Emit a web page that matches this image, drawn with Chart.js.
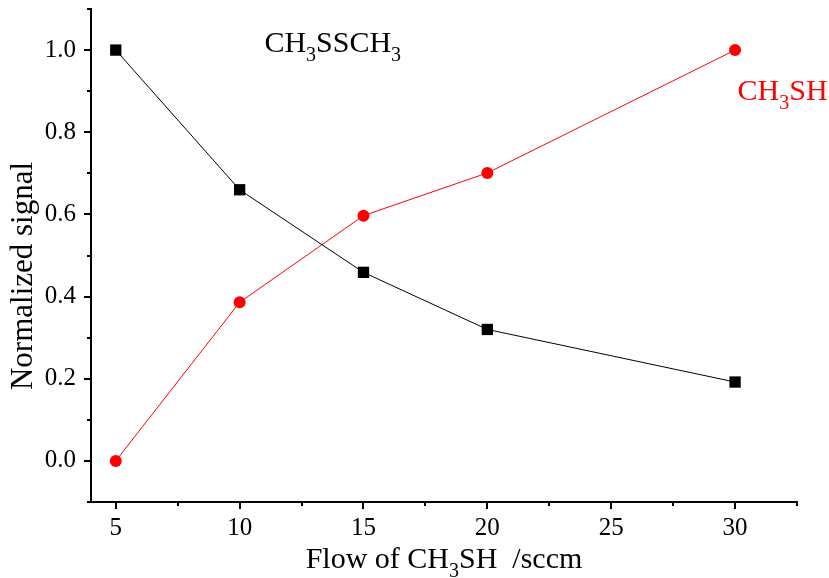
<!DOCTYPE html>
<html>
<head>
<meta charset="utf-8">
<script src="https://cdn.jsdelivr.net/npm/chart.js@4.4.1/dist/chart.umd.min.js"></script>
<style>
  body { margin: 0; background: #fff; }
  #wrap { width: 829px; height: 578px; }
</style>
</head>
<body>
<div id="wrap"><canvas id="signalChart" width="829" height="578"></canvas></div>
<script>
// values
var flow = [5, 10, 15, 20, 30];
var dmdsSignal = [1.0, 0.66, 0.459, 0.32, 0.192];   // CH3SSCH3
var meshSignal = [0.0, 0.386, 0.597, 0.701, 1.0];   // CH3SH
var xTicks = [5, 10, 15, 20, 25, 30];
var xMinor = [7.5, 12.5, 17.5, 22.5, 27.5, 32.5];
var yTicks = [0, 0.2, 0.4, 0.6, 0.8, 1.0];
var yMinor = [-0.1, 0.1, 0.3, 0.5, 0.7, 0.9, 1.1];

var FONT = '"Liberation Serif", "DejaVu Serif", serif';

// draw text with subscript pieces, e.g. [['CH'], ['3', true], ['SH']]
function drawRich(ctx, parts, x, y, size, color, align) {
    var subSize = Math.round(size * 0.66);
    var total = 0;
    parts.forEach(function(p) {
        ctx.font = (p[1] ? subSize : size) + 'px ' + FONT;
        total += ctx.measureText(p[0]).width;
    });
    var cx = align === 'center' ? x - total / 2 : x;
    ctx.fillStyle = color;
    ctx.textAlign = 'left';
    ctx.textBaseline = 'alphabetic';
    parts.forEach(function(p) {
        ctx.font = (p[1] ? subSize : size) + 'px ' + FONT;
        ctx.fillText(p[0], cx, p[1] ? y + size * 0.3 : y);
        cx += ctx.measureText(p[0]).width;
    });
}

var extras = {
    id: 'extras',
    afterDraw: function(chart) {
        var ctx = chart.ctx, xs = chart.scales.x, ys = chart.scales.y, area = chart.chartArea;
        ctx.save();
        // minor ticks
        ctx.strokeStyle = '#000';
        ctx.lineWidth = 2;
        ctx.beginPath();
        xMinor.forEach(function(v) {
            var px = Math.round(xs.getPixelForValue(v));
            ctx.moveTo(px, area.bottom);
            ctx.lineTo(px, area.bottom + 4);
        });
        yMinor.forEach(function(v) {
            var py = Math.round(ys.getPixelForValue(v));
            ctx.moveTo(area.left, py);
            ctx.lineTo(area.left - 4, py);
        });
        ctx.stroke();

        // axis titles
        drawRich(ctx, [['Flow of CH'], ['3', true], ['SH  /sccm']],
            (area.left + area.right) / 2, 568, 30, '#000', 'center');
        ctx.translate(32, 276);
        ctx.rotate(-Math.PI / 2);
        drawRich(ctx, [['Normalized signal']], 0, 0, 31, '#000', 'center');
        ctx.setTransform(1, 0, 0, 1, 0, 0);

        // series labels
        drawRich(ctx, [['CH'], ['3', true], ['SSCH'], ['3', true]],
            xs.getPixelForValue(11.0), ys.getPixelForValue(0.995), 30, '#000', 'left');
        drawRich(ctx, [['CH'], ['3', true], ['SH']],
            xs.getPixelForValue(30.1), ys.getPixelForValue(0.879), 30, '#ff0000', 'left');
        ctx.restore();
    }
};

document.addEventListener("DOMContentLoaded", function() {
    var ctx = document.getElementById('signalChart').getContext('2d');
    var axisCommon = {
        type: 'linear',
        border: { display: true, color: '#000', width: 2 },
        grid: { drawOnChartArea: false, drawTicks: true, tickLength: 7, color: '#000', lineWidth: 2 },
        ticks: { color: '#000', font: { family: FONT, size: 25 } }
    };
    new Chart(ctx, {
        type: 'line',
        data: {
            datasets: [{
                label: 'CH3SSCH3',
                data: flow.map(function(f, i) { return { x: f, y: dmdsSignal[i] }; }),
                borderColor: '#000',
                backgroundColor: '#000',
                borderWidth: 1,
                pointStyle: 'rect',
                pointRadius: 8,
                pointBorderWidth: 0,
                tension: 0
            }, {
                label: 'CH3SH',
                data: flow.map(function(f, i) { return { x: f, y: meshSignal[i] }; }),
                borderColor: '#ff0000',
                backgroundColor: '#ff0000',
                borderWidth: 1,
                pointStyle: 'circle',
                pointRadius: 6,
                pointBorderWidth: 0,
                tension: 0
            }]
        },
        options: {
            responsive: false,
            animation: false,
            layout: { padding: { left: 0, top: 9, right: 32, bottom: 0 } },
            plugins: { legend: { display: false }, tooltip: { enabled: false } },
            scales: {
                x: Object.assign({}, axisCommon, {
                    min: 4, max: 32.5,
                    afterBuildTicks: function(s) { s.ticks = xTicks.map(function(v) { return { value: v }; }); },
                    afterFit: function(s) { s.height = 76; s.paddingLeft = 0; s.paddingRight = 0; },
                    ticks: Object.assign({}, axisCommon.ticks, { padding: 4, maxRotation: 0 })
                }),
                y: Object.assign({}, axisCommon, {
                    min: -0.1, max: 1.1,
                    afterBuildTicks: function(s) { s.ticks = yTicks.map(function(v) { return { value: v }; }); },
                    afterFit: function(s) { s.width = 91; s.paddingTop = 0; s.paddingBottom = 0; },
                    ticks: Object.assign({}, axisCommon.ticks, {
                        padding: 8,
                        callback: function(v) { return v.toFixed(1); }
                    })
                })
            }
        },
        plugins: [extras]
    });
});
</script>
</body>
</html>
